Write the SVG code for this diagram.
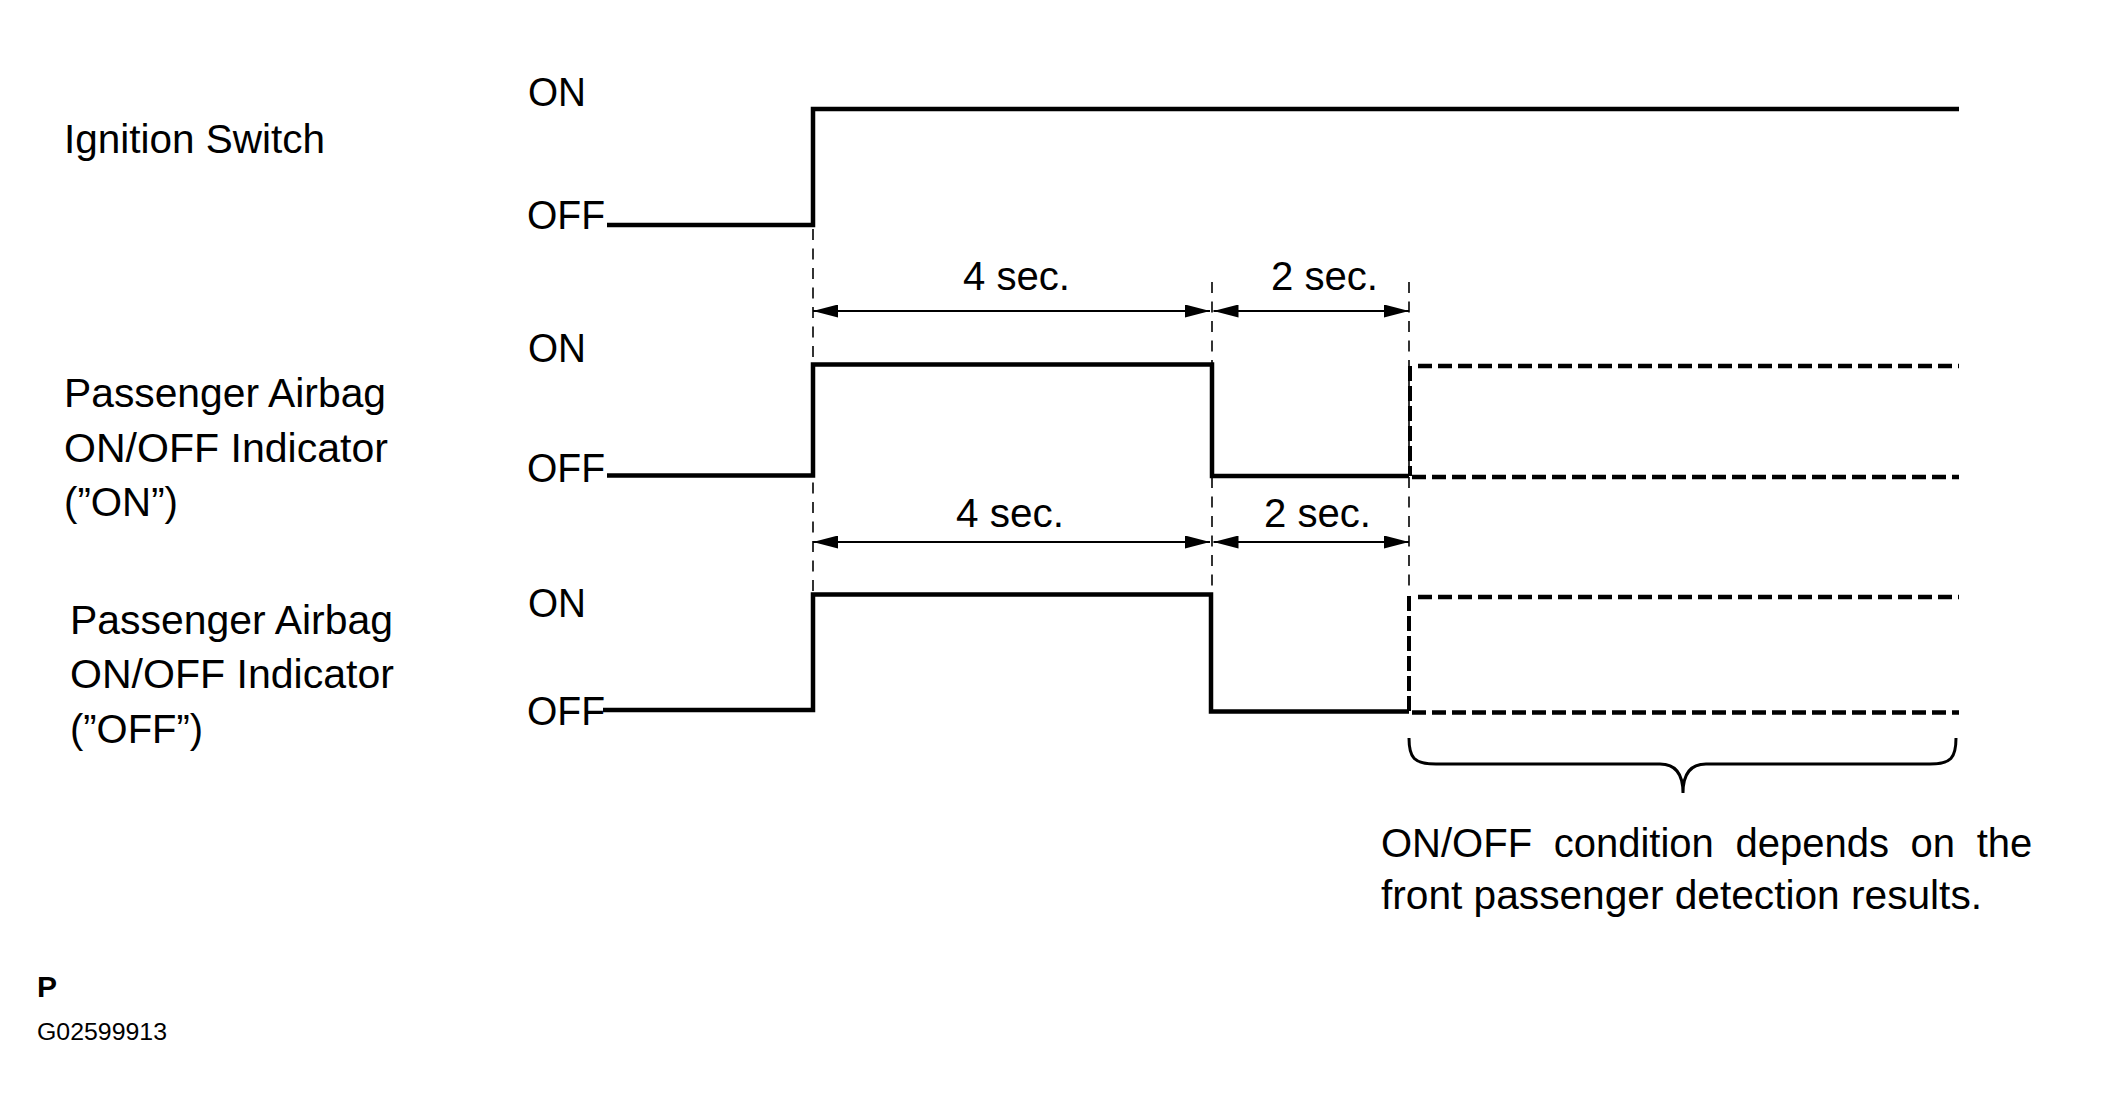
<svg xmlns="http://www.w3.org/2000/svg" width="2124" height="1116" viewBox="0 0 2124 1116">
<style>
text{font-family:"Liberation Sans",Arial,Helvetica,sans-serif;font-size:40px;fill:#000}
.sig{fill:none;stroke:#000;stroke-width:4.5;stroke-linejoin:miter}
.dsig{fill:none;stroke:#000;stroke-width:4.5;stroke-dasharray:14 6}
.dvert{fill:none;stroke:#000;stroke-width:4;stroke-dasharray:15 5}
.guide{fill:none;stroke:#000;stroke-width:1.6;stroke-dasharray:11 8.5}
.dim{fill:none;stroke:#000;stroke-width:2;marker-start:url(#ah);marker-end:url(#ah)}
.brace{fill:none;stroke:#000;stroke-width:3}
</style>
<defs>
<marker id="ah" markerUnits="userSpaceOnUse" markerWidth="26" markerHeight="13" refX="25" refY="6.5" orient="auto-start-reverse">
<path d="M0,0 L25,6.5 L0,13 z" fill="#000"/>
</marker>
</defs>
<rect width="2124" height="1116" fill="#fff"/>

<g id="ignition">
<text x="64" y="153" textLength="261" lengthAdjust="spacingAndGlyphs">Ignition Switch</text>
<text x="528" y="106" textLength="58" lengthAdjust="spacingAndGlyphs">ON</text>
<text x="527" y="229" textLength="78" lengthAdjust="spacingAndGlyphs">OFF</text>
<path class="sig" d="M607,225 H813 V109 H1959"/>
</g>

<g id="indicator-on">
<text x="64" y="407" textLength="322" lengthAdjust="spacingAndGlyphs">Passenger Airbag</text>
<text x="64" y="462" textLength="324" lengthAdjust="spacingAndGlyphs">ON/OFF Indicator</text>
<text x="64" y="516" textLength="114" lengthAdjust="spacingAndGlyphs">(”ON”)</text>
<text x="528" y="362" textLength="58" lengthAdjust="spacingAndGlyphs">ON</text>
<text x="527" y="482" textLength="78" lengthAdjust="spacingAndGlyphs">OFF</text>
<path class="sig" d="M607,475.5 H813 V364.5 H1212 V476 H1409"/>
<path class="dvert" d="M1410,366 V476"/>
<path class="dsig" d="M1418,366 H1959"/>
<path class="dsig" d="M1412,477 H1959"/>
</g>

<g id="indicator-off">
<text x="70" y="634" textLength="323" lengthAdjust="spacingAndGlyphs">Passenger Airbag</text>
<text x="70" y="688" textLength="324" lengthAdjust="spacingAndGlyphs">ON/OFF Indicator</text>
<text x="70" y="743" textLength="133" lengthAdjust="spacingAndGlyphs">(”OFF”)</text>
<text x="528" y="617" textLength="58" lengthAdjust="spacingAndGlyphs">ON</text>
<text x="527" y="725" textLength="78" lengthAdjust="spacingAndGlyphs">OFF</text>
<path class="sig" d="M603,710 H813 V594.5 H1211 V711.5 H1409"/>
<path class="dvert" d="M1409,596 V711"/>
<path class="dsig" d="M1418,597 H1959"/>
<path class="dsig" d="M1412,712.5 H1959"/>
</g>

<g id="timing-labels">
<text x="963" y="290" textLength="107" lengthAdjust="spacingAndGlyphs">4 sec.</text>
<text x="1271" y="290" textLength="107" lengthAdjust="spacingAndGlyphs">2 sec.</text>
<text x="956" y="527" textLength="108" lengthAdjust="spacingAndGlyphs">4 sec.</text>
<text x="1264" y="527" textLength="107" lengthAdjust="spacingAndGlyphs">2 sec.</text>
</g>

<g id="connectors">
<path class="guide" d="M813,229 V594"/>
<path class="guide" d="M1212,282 V592"/>
<path class="guide" d="M1409,282 V592"/>
<line class="dim" x1="813" y1="311" x2="1210" y2="311"/>
<line class="dim" x1="1213.5" y1="311" x2="1409" y2="311"/>
<line class="dim" x1="813" y1="542" x2="1210" y2="542"/>
<line class="dim" x1="1213.5" y1="542" x2="1409" y2="542"/>
</g>

<g id="note">
<path class="brace" d="M1409,738 C1409,758 1414,764 1436,764 L1660,764 C1676,764 1683,774 1683,793 C1683,774 1690,764 1706,764 L1930,764 C1951,764 1956,758 1956,738"/>
<text x="1381" y="857" word-spacing="10.5">ON/OFF condition depends on the</text>
<text x="1381" y="909" textLength="601" lengthAdjust="spacingAndGlyphs">front passenger detection results.</text>
</g>

<g id="footer">
<text x="37" y="997" style="font-size:30px;font-weight:bold">P</text>
<text x="37" y="1040" style="font-size:23px" textLength="130" lengthAdjust="spacingAndGlyphs">G02599913</text>
</g>
</svg>
